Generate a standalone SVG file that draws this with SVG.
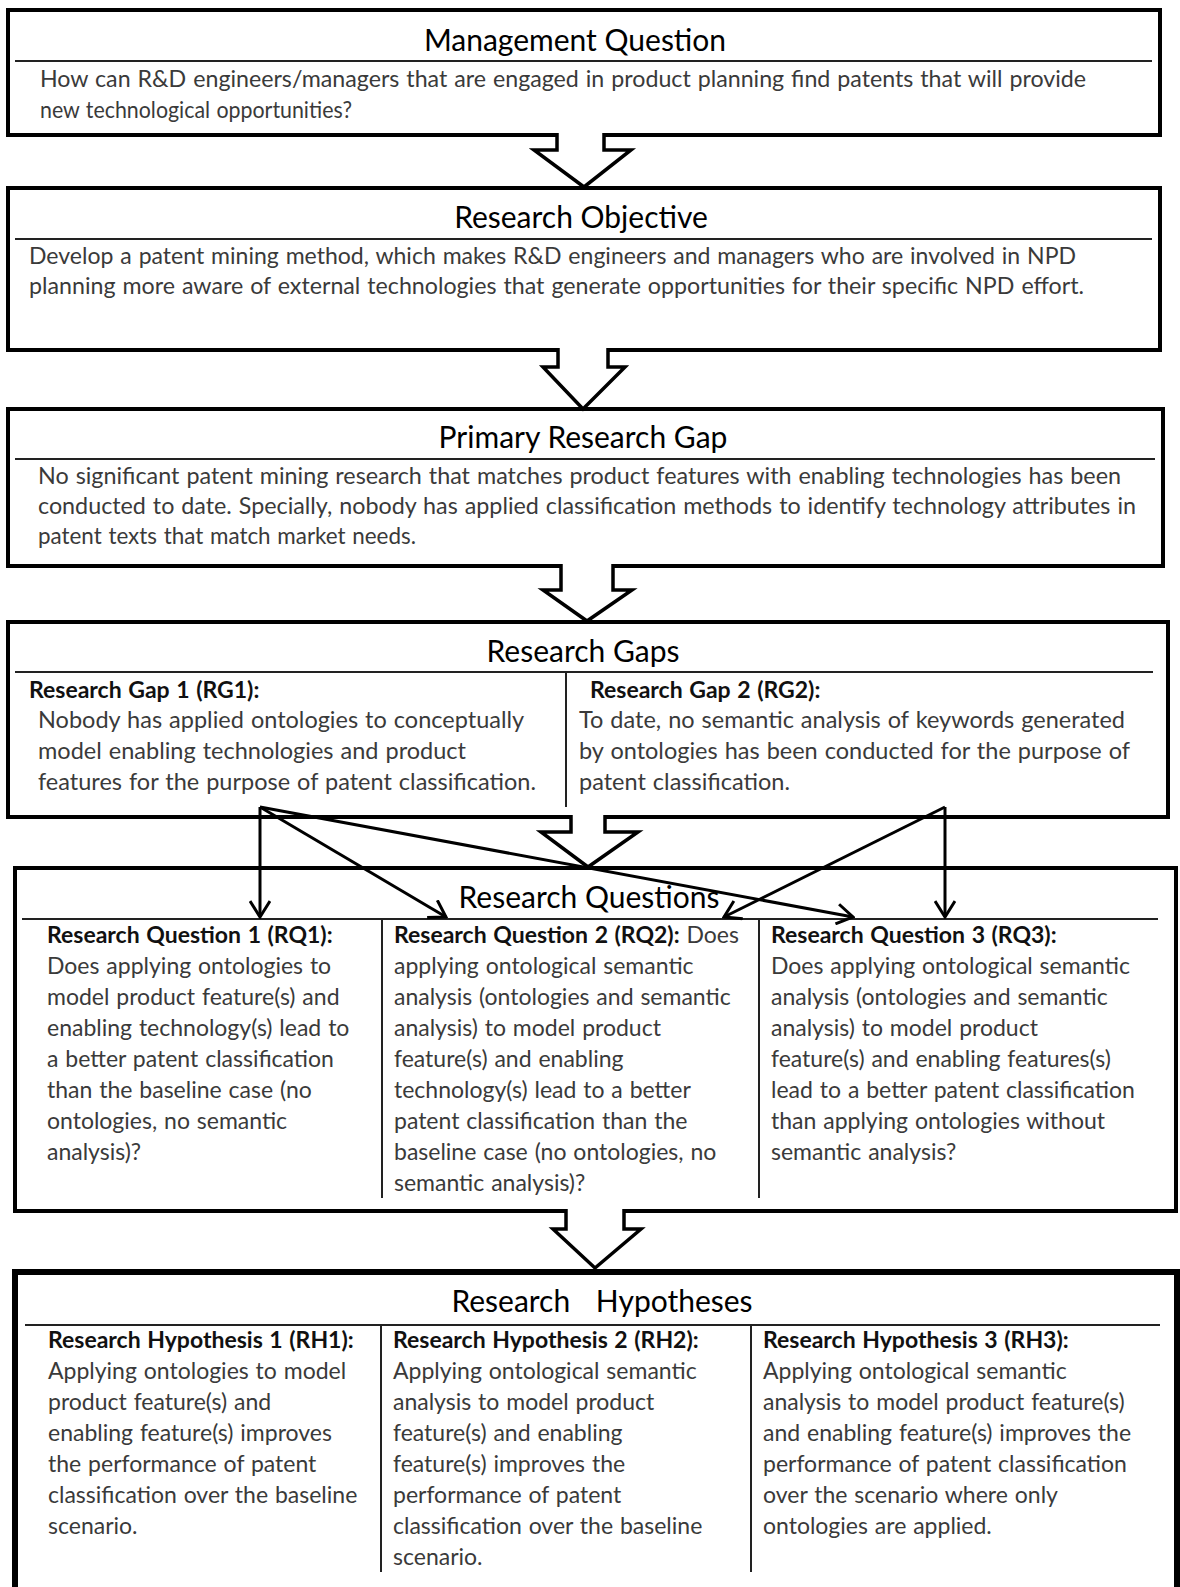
<svg xmlns="http://www.w3.org/2000/svg" width="1180" height="1587" viewBox="0 0 1180 1587">
  <defs>
    <style>
      .box { fill: #fff; stroke: #000; stroke-width: 4; }
      .boxh { fill: #fff; stroke: #000; stroke-width: 6; }
      .sep { stroke: #222; stroke-width: 2; fill: none; }
      .div { stroke: #222; stroke-width: 2; fill: none; }
      text { font-family: Lato, "Liberation Sans", sans-serif; }
      .title { font-size: 30px; fill: #000; text-anchor: middle; }
      .body { font-size: 23px; fill: #3a3a3a; word-spacing: 1px; }
      .gap { font-size: 23.5px; }
      .head { font-size: 23px; font-weight: bold; fill: #111; word-spacing: 1px; }
      .blk { fill: #fff; stroke: #000; stroke-width: 3.5; stroke-linejoin: miter; }
      .conn { stroke: #000; stroke-width: 3; fill: none; marker-end: url(#ah); }
    </style>
    <marker id="ah" viewBox="0 0 20 22" refX="18" refY="11" markerWidth="20" markerHeight="22" markerUnits="userSpaceOnUse" orient="auto">
      <path d="M2,1 L18,11 L2,21" fill="none" stroke="#000" stroke-width="3"/>
    </marker>
  </defs>

  <!-- Management Question -->
  <g id="management-question">
    <rect class="box" x="8" y="10" width="1152" height="125"/>
    <text class="title" x="575" y="51">Management Question</text>
    <line class="sep" x1="15" y1="61" x2="1152" y2="61"/>
    <text class="body" x="40" y="87" textLength="1046" lengthAdjust="spacingAndGlyphs">How can R&amp;D engineers/managers that are engaged in product planning find patents that will provide</text>
    <text class="body" x="40" y="118" textLength="312" lengthAdjust="spacingAndGlyphs">new technological opportunities?</text>
  </g>

  <!-- Research Objective -->
  <g id="research-objective">
    <rect class="box" x="8" y="188" width="1152" height="162"/>
    <text class="title" x="581" y="228">Research Objective</text>
    <line class="sep" x1="15" y1="239" x2="1152" y2="239"/>
    <text class="body" x="29" y="264" textLength="1047" lengthAdjust="spacingAndGlyphs">Develop a patent mining method, which makes R&amp;D engineers and managers who are involved in NPD</text>
    <text class="body" x="29" y="294" textLength="1055" lengthAdjust="spacingAndGlyphs">planning more aware of external technologies that generate opportunities for their specific NPD effort.</text>
  </g>

  <!-- Primary Research Gap -->
  <g id="primary-research-gap">
    <rect class="box" x="8" y="409" width="1155" height="157"/>
    <text class="title" x="583" y="448">Primary Research Gap</text>
    <line class="sep" x1="15" y1="459" x2="1155" y2="459"/>
    <text class="body" x="38" y="484" textLength="1083" lengthAdjust="spacingAndGlyphs">No significant patent mining research that matches product features with enabling technologies has been</text>
    <text class="body" x="38" y="514" textLength="1098" lengthAdjust="spacingAndGlyphs">conducted to date. Specially, nobody has applied classification methods to identify technology attributes in</text>
    <text class="body" x="38" y="544" textLength="378" lengthAdjust="spacingAndGlyphs">patent texts that match market needs.</text>
  </g>

  <!-- Research Gaps -->
  <g id="research-gaps">
    <rect class="box" x="8" y="622" width="1160" height="195"/>
    <text class="title" x="583" y="662">Research Gaps</text>
    <line class="sep" x1="15" y1="672" x2="1153" y2="672"/>
    <line class="div" x1="566" y1="672" x2="566" y2="807"/>
    <text class="head" x="29" y="698">Research Gap 1 (RG1):</text>
    <text class="body gap" x="38" y="728">Nobody has applied ontologies to conceptually</text>
    <text class="body gap" x="38" y="759">model enabling technologies and product</text>
    <text class="body gap" x="38" y="790">features for the purpose of patent classification.</text>
    <text class="head" x="590" y="698">Research Gap 2 (RG2):</text>
    <text class="body gap" x="579" y="728">To date, no semantic analysis of keywords generated</text>
    <text class="body gap" x="579" y="759">by ontologies has been conducted for the purpose of</text>
    <text class="body gap" x="579" y="790">patent classification.</text>
  </g>

  <!-- Research Questions -->
  <g id="research-questions">
    <rect class="box" x="15" y="868" width="1161" height="343"/>
    <text class="title" x="589" y="908">Research Questions</text>
    <line class="sep" x1="22" y1="919" x2="1158" y2="919"/>
    <line class="div" x1="382" y1="919" x2="382" y2="1198"/>
    <line class="div" x1="759" y1="919" x2="759" y2="1198"/>
    <text class="head" x="47" y="943">Research Question 1 (RQ1):</text>
    <text class="body" x="47" y="974">Does applying ontologies to</text>
    <text class="body" x="47" y="1005">model product feature(s) and</text>
    <text class="body" x="47" y="1036">enabling technology(s) lead to</text>
    <text class="body" x="47" y="1067">a better patent classification</text>
    <text class="body" x="47" y="1098">than the baseline case (no</text>
    <text class="body" x="47" y="1129">ontologies, no semantic</text>
    <text class="body" x="47" y="1160">analysis)?</text>
    <text class="head" x="394" y="943">Research Question 2 (RQ2):<tspan class="body" font-weight="normal"> Does</tspan></text>
    <text class="body" x="394" y="974">applying ontological semantic</text>
    <text class="body" x="394" y="1005">analysis (ontologies and semantic</text>
    <text class="body" x="394" y="1036">analysis) to model product</text>
    <text class="body" x="394" y="1067">feature(s) and enabling</text>
    <text class="body" x="394" y="1098">technology(s) lead to a better</text>
    <text class="body" x="394" y="1129">patent classification than the</text>
    <text class="body" x="394" y="1160">baseline case (no ontologies, no</text>
    <text class="body" x="394" y="1191">semantic analysis)?</text>
    <text class="head" x="771" y="943">Research Question 3 (RQ3):</text>
    <text class="body" x="771" y="974">Does applying ontological semantic</text>
    <text class="body" x="771" y="1005">analysis (ontologies and semantic</text>
    <text class="body" x="771" y="1036">analysis) to model product</text>
    <text class="body" x="771" y="1067">feature(s) and enabling features(s)</text>
    <text class="body" x="771" y="1098">lead to a better patent classification</text>
    <text class="body" x="771" y="1129">than applying ontologies without</text>
    <text class="body" x="771" y="1160">semantic analysis?</text>
  </g>

  <!-- Research Hypotheses (box runs past the lower edge) -->
  <g id="research-hypotheses">
    <rect class="boxh" x="15" y="1272" width="1162" height="330"/>
    <text class="title" x="602" y="1312" word-spacing="18">Research Hypotheses</text>
    <line class="sep" x1="25" y1="1325" x2="1160" y2="1325"/>
    <line class="div" x1="381" y1="1325" x2="381" y2="1572"/>
    <line class="div" x1="751" y1="1325" x2="751" y2="1572"/>
    <text class="head" x="48" y="1348">Research Hypothesis 1 (RH1):</text>
    <text class="body" x="48" y="1379">Applying ontologies to model</text>
    <text class="body" x="48" y="1410">product feature(s) and</text>
    <text class="body" x="48" y="1441">enabling feature(s) improves</text>
    <text class="body" x="48" y="1472">the performance of patent</text>
    <text class="body" x="48" y="1503">classification over the baseline</text>
    <text class="body" x="48" y="1534">scenario.</text>
    <text class="head" x="393" y="1348">Research Hypothesis 2 (RH2):</text>
    <text class="body" x="393" y="1379">Applying ontological semantic</text>
    <text class="body" x="393" y="1410">analysis to model product</text>
    <text class="body" x="393" y="1441">feature(s) and enabling</text>
    <text class="body" x="393" y="1472">feature(s) improves the</text>
    <text class="body" x="393" y="1503">performance of patent</text>
    <text class="body" x="393" y="1534">classification over the baseline</text>
    <text class="body" x="393" y="1565">scenario.</text>
    <text class="head" x="763" y="1348">Research Hypothesis 3 (RH3):</text>
    <text class="body" x="763" y="1379">Applying ontological semantic</text>
    <text class="body" x="763" y="1410">analysis to model product feature(s)</text>
    <text class="body" x="763" y="1441">and enabling feature(s) improves the</text>
    <text class="body" x="763" y="1472">performance of patent classification</text>
    <text class="body" x="763" y="1503">over the scenario where only</text>
    <text class="body" x="763" y="1534">ontologies are applied.</text>
  </g>

  <!-- Block arrows between stages and the thin links from gaps to questions -->
  <g id="connectors">
    <path class="blk" d="M557,133 L557,150 L534,150 L584,187 L631,150 L604,150 L604,133"/>
    <path class="blk" d="M558,348 L558,367 L543,367 L583,409 L625,367 L608,367 L608,348"/>
    <path class="blk" d="M561,564 L561,590 L543,590 L587,621 L632,590 L613,590 L613,564"/>
    <path class="blk" d="M571,815 L571,832 L541,832 L588,867 L638,832 L605,832 L605,815"/>
    <path class="blk" d="M566,1209 L566,1229 L553,1229 L595,1268 L641,1229 L624,1229 L624,1209"/>
    <line class="conn" x1="260" y1="807" x2="260" y2="917"/>
    <line class="conn" x1="260" y1="807" x2="446" y2="917"/>
    <line class="conn" x1="260" y1="807" x2="853" y2="917"/>
    <line class="conn" x1="945" y1="807" x2="945" y2="917"/>
    <line class="conn" x1="945" y1="807" x2="724" y2="917"/>
  </g>
</svg>
